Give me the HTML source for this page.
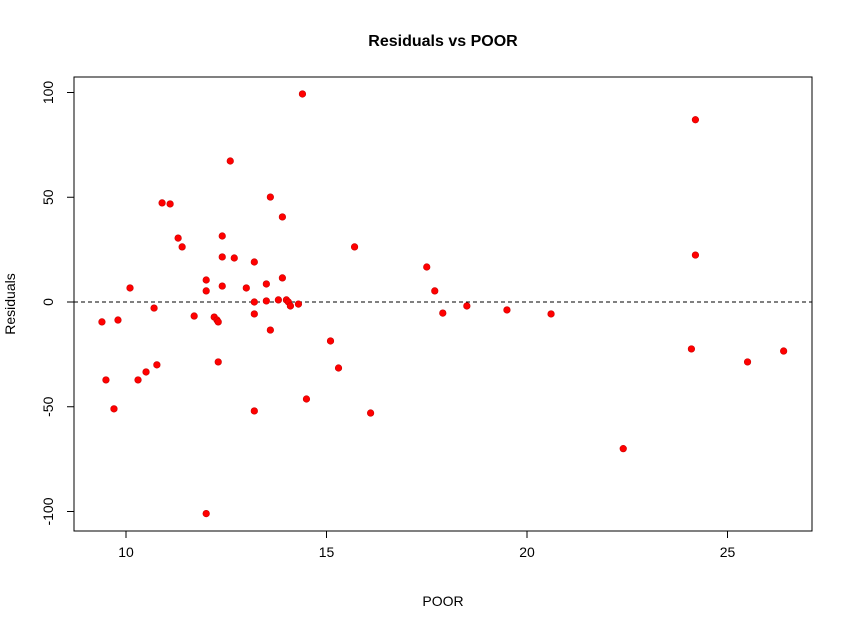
<!DOCTYPE html>
<html><head><meta charset="utf-8"><style>
body{margin:0;background:#fff;}
svg text{font-family:"Liberation Sans",Arial,sans-serif;}
</style></head><body>
<svg id="chart" width="846" height="622" xmlns="http://www.w3.org/2000/svg">
<rect width="846" height="622" fill="#fff"/>
<text x="443" y="46" text-anchor="middle" font-size="16" font-weight="bold">Residuals vs POOR</text>
<rect x="74" y="77" width="738" height="454" fill="none" stroke="#000"/>
<text x="443" y="606" text-anchor="middle" font-size="14">POOR</text>
<text transform="translate(15,304) rotate(-90)" text-anchor="middle" font-size="14">Residuals</text>
<g id="axes"></g>
<g id="points"></g>
</svg>
<script>
const xTicks=[10,15,20,25];
const yTicks=[-100,-50,0,50,100];
const poor=[9.4,9.5,9.7,9.8,10.1,10.3,10.5,10.7,10.77,10.9,11.1,11.3,11.4,11.7,12.0,12.0,12.0,12.2,12.27,12.3,12.3,12.4,12.4,12.4,12.6,12.7,13.0,13.2,13.2,13.2,13.2,13.5,13.5,13.6,13.6,13.8,13.9,13.9,14.0,14.05,14.1,14.3,14.4,14.5,15.1,15.3,15.7,16.1,17.5,17.7,17.9,18.5,19.5,20.6,22.4,24.1,24.2,24.2,25.5,26.4];
const residuals=[-9.5,-37.2,-51,-8.6,6.7,-37.2,-33.4,-2.9,-30,47.3,46.8,30.5,26.3,-6.7,10.5,5.3,-101,-7.2,-8.6,-9.5,-28.6,31.5,21.5,7.6,67.3,21,6.7,19.1,0,-5.7,-52,8.6,0.5,50.1,-13.4,1,40.6,11.5,1,0,-1.9,-1,99.3,-46.3,-18.6,-31.5,26.3,-53,16.7,5.3,-5.3,-1.9,-3.8,-5.7,-70,-22.4,87,22.4,-28.6,-23.4];
const NS="http://www.w3.org/2000/svg";
const xs=v=>126+(v-10)*40.1;
const ys=v=>302-v*2.095;
const ax=document.getElementById('axes');
function mk(t,a,p){const e=document.createElementNS(NS,t);for(const k in a)e.setAttribute(k,a[k]);p.appendChild(e);return e;}
const zl=mk('line',{x1:74,x2:812,y1:ys(0),y2:ys(0),stroke:'#000','stroke-dasharray':'4,3'},ax);


mk('line',{x1:xs(10),x2:xs(25),y1:531,y2:531,stroke:'#000'},ax);
mk('line',{x1:74,x2:74,y1:ys(100),y2:ys(-100),stroke:'#000'},ax);
xTicks.forEach(v=>{
 mk('line',{x1:xs(v),x2:xs(v),y1:531,y2:538,stroke:'#000'},ax);
 const t=mk('text',{x:xs(v),y:557,'text-anchor':'middle','font-size':14},ax);
 t.textContent=v;
 
 
});
yTicks.forEach(v=>{
 mk('line',{x1:67,x2:74,y1:ys(v),y2:ys(v),stroke:'#000'},ax);
 const t=mk('text',{transform:`translate(53,${ys(v)}) rotate(-90)`,'text-anchor':'middle','font-size':14},ax);
 t.textContent=v;
 
 
});
const pg=document.getElementById('points');
poor.forEach((v,i)=>{
 const c=mk('circle',{cx:xs(v),cy:ys(residuals[i]),r:3.3,fill:'#f00',stroke:'#c00','stroke-width':0.6},pg);
 
 
});
</script>
</body></html>
